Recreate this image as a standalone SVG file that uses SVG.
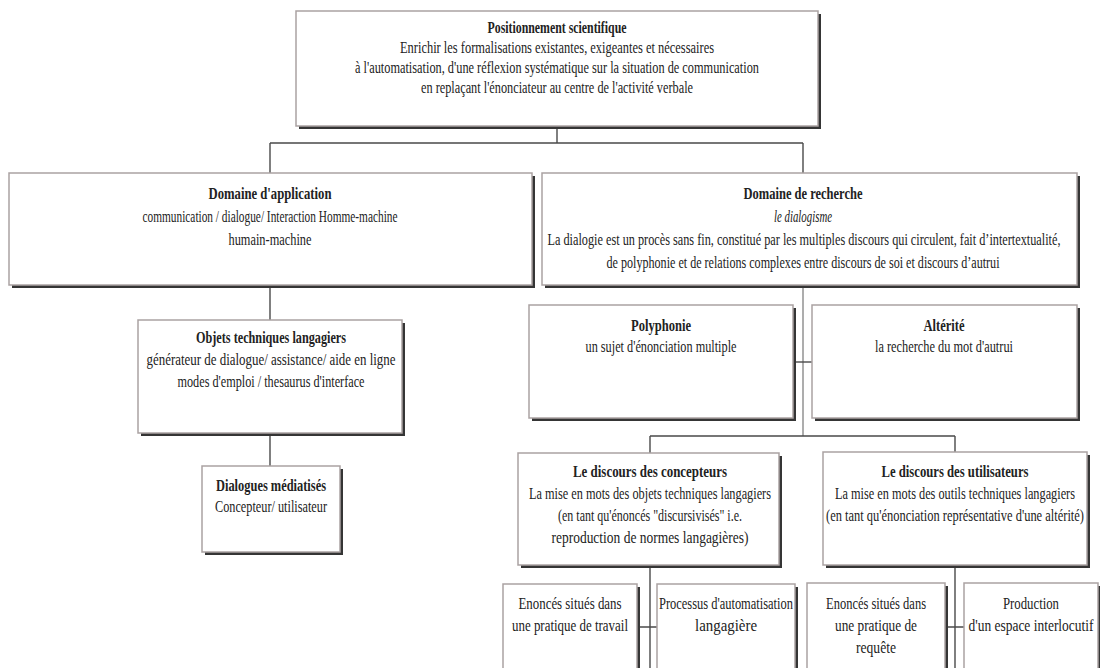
<svg xmlns="http://www.w3.org/2000/svg" width="1100" height="668" viewBox="0 0 1100 668">
<style>
.sh{fill:#353535}
.bx{fill:#fff;stroke:#aaa2a2;stroke-width:1.5}
.t{font-family:"Liberation Serif","Times New Roman",serif;font-size:17px;fill:#222;text-anchor:middle}
.b{font-weight:bold}
.i{font-style:italic}
.c{stroke:#4a4a4a;stroke-width:1.4;fill:none}
.cl{stroke:#8a8a8a;stroke-width:1.4;fill:none}
</style>
<rect width="1100" height="668" fill="#fff"/>
<g id="connectors">
<path class="c" d="M557 128V143M270 143H803M270 143V173M803 143V173"/>
<path class="c" d="M270 288V320M270 436V466"/>
<path class="cl" d="M803 288V436"/>
<path class="c" d="M795 362H812"/>
<path class="c" d="M650 436H955M650 436V453M955 436V452"/>
<path class="c" d="M650 568V668M955 568V668M639 627H657M948 627H964"/>
</g>
<g id="n-top">
<rect class="sh" x="299" y="14" width="522" height="115"/>
<rect class="bx" x="296" y="11" width="522" height="115"/>
<text class="t b" x="557" y="33" textLength="139" lengthAdjust="spacingAndGlyphs">Positionnement scientifique</text>
<text class="t" x="557" y="53" textLength="314" lengthAdjust="spacingAndGlyphs">Enrichir les formalisations existantes, exigeantes et nécessaires</text>
<text class="t" x="557" y="73" textLength="404" lengthAdjust="spacingAndGlyphs">à l'automatisation, d'une réflexion systématique sur la situation de communication</text>
<text class="t" x="557" y="93" textLength="272" lengthAdjust="spacingAndGlyphs">en replaçant l'énonciateur au centre de l'activité verbale</text>
</g>
<g id="n-application">
<rect class="sh" x="12" y="176" width="523" height="112"/>
<rect class="bx" x="9" y="173" width="523" height="112"/>
<text class="t b" x="270" y="199" textLength="123" lengthAdjust="spacingAndGlyphs">Domaine d'application</text>
<text class="t" x="270" y="222" textLength="255" lengthAdjust="spacingAndGlyphs">communication / dialogue/ Interaction Homme-machine</text>
<text class="t" x="270" y="245" textLength="83" lengthAdjust="spacingAndGlyphs">humain-machine</text>
</g>
<g id="n-recherche">
<rect class="sh" x="545" y="176" width="535" height="112"/>
<rect class="bx" x="542" y="173" width="535" height="112"/>
<text class="t b" x="803" y="199" textLength="119" lengthAdjust="spacingAndGlyphs">Domaine de recherche</text>
<text class="t i" x="803" y="222" textLength="58" lengthAdjust="spacingAndGlyphs">le dialogisme</text>
<text class="t" x="804" y="245" textLength="513" lengthAdjust="spacingAndGlyphs">La dialogie est un procès sans fin, constitué par les multiples discours qui circulent, fait d’intertextualité,</text>
<text class="t" x="803" y="268" textLength="393" lengthAdjust="spacingAndGlyphs">de polyphonie et de relations complexes entre discours de soi et discours d’autrui</text>
</g>
<g id="n-polyphonie">
<rect class="sh" x="532" y="308" width="264" height="113"/>
<rect class="bx" x="529" y="305" width="264" height="113"/>
<text class="t b" x="661" y="331" textLength="60" lengthAdjust="spacingAndGlyphs">Polyphonie</text>
<text class="t" x="661" y="352" textLength="151" lengthAdjust="spacingAndGlyphs">un sujet d'énonciation multiple</text>
</g>
<g id="n-alterite">
<rect class="sh" x="815" y="308" width="265" height="113"/>
<rect class="bx" x="812" y="305" width="265" height="113"/>
<text class="t b" x="944" y="331" textLength="41" lengthAdjust="spacingAndGlyphs">Altérité</text>
<text class="t" x="944" y="352" textLength="138" lengthAdjust="spacingAndGlyphs">la recherche du mot d'autrui</text>
</g>
<g id="n-objets">
<rect class="sh" x="141" y="323" width="264" height="113"/>
<rect class="bx" x="138" y="320" width="264" height="113"/>
<text class="t b" x="271" y="343" textLength="150" lengthAdjust="spacingAndGlyphs">Objets techniques langagiers</text>
<text class="t" x="271" y="365" textLength="249" lengthAdjust="spacingAndGlyphs">générateur de dialogue/ assistance/ aide en ligne</text>
<text class="t" x="271" y="387" textLength="187" lengthAdjust="spacingAndGlyphs">modes d'emploi / thesaurus d'interface</text>
</g>
<g id="n-dialogues">
<rect class="sh" x="205" y="469" width="138" height="86"/>
<rect class="bx" x="202" y="466" width="138" height="86"/>
<text class="t b" x="271" y="491" textLength="110" lengthAdjust="spacingAndGlyphs">Dialogues médiatisés</text>
<text class="t" x="271" y="512" textLength="112" lengthAdjust="spacingAndGlyphs">Concepteur/ utilisateur</text>
</g>
<g id="n-concepteurs">
<rect class="sh" x="521" y="456" width="261" height="112"/>
<rect class="bx" x="518" y="453" width="261" height="112"/>
<text class="t b" x="650" y="477" textLength="154" lengthAdjust="spacingAndGlyphs">Le discours des concepteurs</text>
<text class="t" x="650" y="499" textLength="242" lengthAdjust="spacingAndGlyphs">La mise en mots des objets techniques langagiers</text>
<text class="t" x="650" y="521" textLength="184" lengthAdjust="spacingAndGlyphs">(en tant qu'énoncés "discursivisés" i.e.</text>
<text class="t" x="650" y="543" textLength="197" lengthAdjust="spacingAndGlyphs">reproduction de normes langagières)</text>
</g>
<g id="n-utilisateurs">
<rect class="sh" x="826" y="455" width="264" height="113"/>
<rect class="bx" x="823" y="452" width="264" height="113"/>
<text class="t b" x="955" y="477" textLength="147" lengthAdjust="spacingAndGlyphs">Le discours des utilisateurs</text>
<text class="t" x="955" y="499" textLength="240" lengthAdjust="spacingAndGlyphs">La mise en mots des outils techniques langagiers</text>
<text class="t" x="955" y="521" textLength="258" lengthAdjust="spacingAndGlyphs">(en tant qu'énonciation représentative d'une altérité)</text>
</g>
<g id="n-travail">
<rect class="sh" x="506" y="587" width="134" height="100"/>
<rect class="bx" x="503" y="584" width="134" height="100"/>
<text class="t" x="570" y="609" textLength="103" lengthAdjust="spacingAndGlyphs">Enoncés situés dans</text>
<text class="t" x="570" y="631" textLength="116" lengthAdjust="spacingAndGlyphs">une pratique de travail</text>
</g>
<g id="n-automatisation">
<rect class="sh" x="660" y="587" width="138" height="100"/>
<rect class="bx" x="657" y="584" width="138" height="100"/>
<text class="t" x="726" y="609" textLength="134" lengthAdjust="spacingAndGlyphs">Processus d'automatisation</text>
<text class="t" x="726" y="631" textLength="62" lengthAdjust="spacingAndGlyphs">langagière</text>
</g>
<g id="n-requete">
<rect class="sh" x="810" y="586" width="138" height="100"/>
<rect class="bx" x="807" y="583" width="138" height="100"/>
<text class="t" x="876" y="609" textLength="100" lengthAdjust="spacingAndGlyphs">Enoncés situés dans</text>
<text class="t" x="876" y="631" textLength="82" lengthAdjust="spacingAndGlyphs">une pratique de</text>
<text class="t" x="876" y="653" textLength="40" lengthAdjust="spacingAndGlyphs">requête</text>
</g>
<g id="n-production">
<rect class="sh" x="967" y="586" width="134" height="100"/>
<rect class="bx" x="964" y="583" width="134" height="100"/>
<text class="t" x="1031" y="609" textLength="56" lengthAdjust="spacingAndGlyphs">Production</text>
<text class="t" x="1031" y="631" textLength="125" lengthAdjust="spacingAndGlyphs">d'un espace interlocutif</text>
</g>
</svg>
